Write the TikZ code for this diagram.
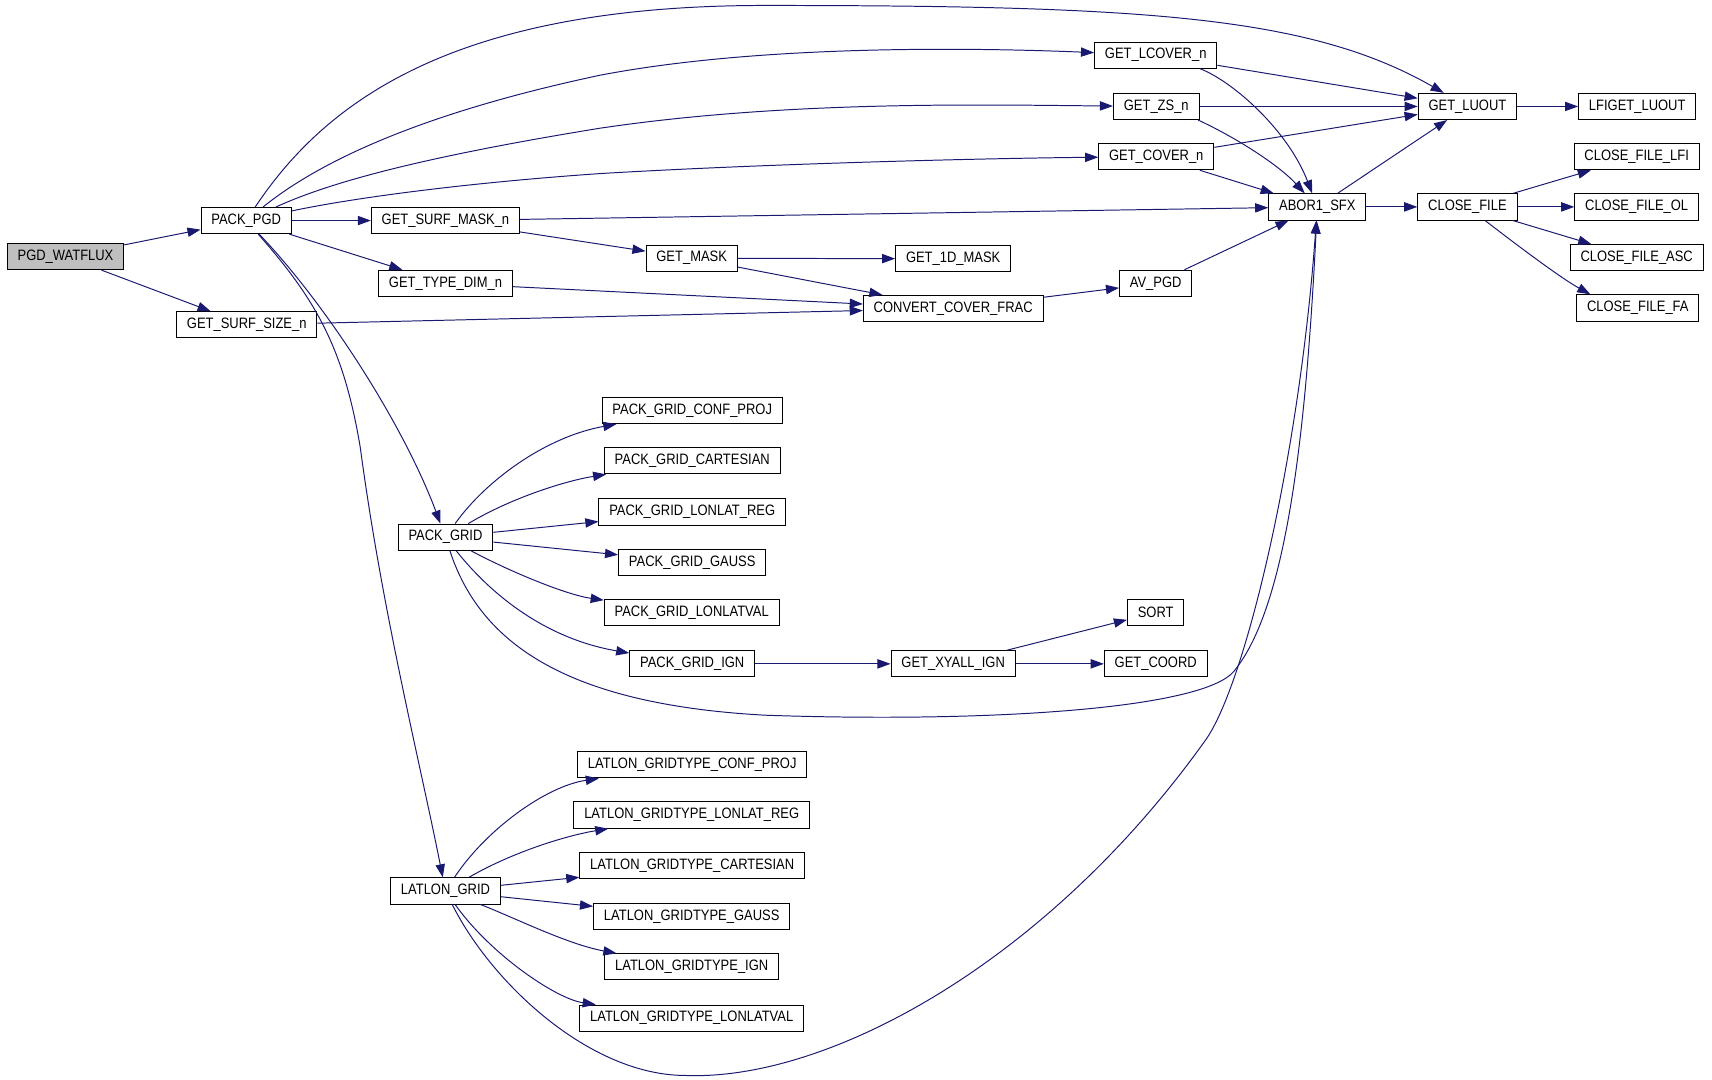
\documentclass[tikz,border=0pt]{standalone}
\usepackage{fontspec}
\setmainfont[FakeStretch=0.86]{Liberation Sans}
\usetikzlibrary{arrows.meta}
\definecolor{edgeblue}{HTML}{191970}
\definecolor{rootgray}{HTML}{BFBFBF}
\begin{document}
\begin{tikzpicture}[x=1pt,y=-1pt,
	fn/.style={draw=black,fill=white,line width=0.9pt,inner xsep=9.5pt,inner ysep=0pt,minimum height=24pt,font=\fontsize{13.8}{15}\selectfont},
	root/.style={fn,fill=rootgray},
	call/.style={draw=edgeblue,line width=0.9pt,-{Triangle[length=12pt,width=8.5pt]}}]
	\useasboundingbox (0,0) rectangle (1568,989);
	% functions
	\node[root] (watflux) at (60,235) {PGD\_WATFLUX};
	\node[fn] (packpgd) at (225.5,202) {PACK\_PGD};
	\node[fn] (surfsize) at (226,297.5) {GET\_SURF\_SIZE\_n};
	\node[fn] (surfmask) at (408,202) {GET\_SURF\_MASK\_n};
	\node[fn] (typedim) at (408,259.5) {GET\_TYPE\_DIM\_n};
	\node[fn] (getmask) at (633.5,236.5) {GET\_MASK};
	\node[fn] (onedmask) at (873,237) {GET\_1D\_MASK};
	\node[fn] (convert) at (873,282.5) {CONVERT\_COVER\_FRAC};
	\node[fn] (avpgd) at (1058.5,259.5) {AV\_PGD};
	\node[fn] (lcover) at (1058.5,50.5) {GET\_LCOVER\_n};
	\node[fn] (zs) at (1059,97.5) {GET\_ZS\_n};
	\node[fn] (cover) at (1059,143.5) {GET\_COVER\_n};
	\node[fn] (abor) at (1206.5,189.5) {ABOR1\_SFX};
	\node[fn] (luout) at (1344,97.5) {GET\_LUOUT};
	\node[fn] (lfiluout) at (1499.5,97.5) {LFIGET\_LUOUT};
	\node[fn] (close) at (1344,189.5) {CLOSE\_FILE};
	\node[fn] (closelfi) at (1499,143.5) {CLOSE\_FILE\_LFI};
	\node[fn] (closeol) at (1499,189.5) {CLOSE\_FILE\_OL};
	\node[fn] (closeasc) at (1499,236) {CLOSE\_FILE\_ASC};
	\node[fn] (closefa) at (1500,282) {CLOSE\_FILE\_FA};
	\node[fn] (packgrid) at (408,492) {PACK\_GRID};
	\node[fn] (pgconf) at (634,376) {PACK\_GRID\_CONF\_PROJ};
	\node[fn] (pgcart) at (634,422) {PACK\_GRID\_CARTESIAN};
	\node[fn] (pglonlat) at (634,469) {PACK\_GRID\_LONLAT\_REG};
	\node[fn] (pggauss) at (634,515) {PACK\_GRID\_GAUSS};
	\node[fn] (pgval) at (633.5,561) {PACK\_GRID\_LONLATVAL};
	\node[fn] (pgign) at (634,608) {PACK\_GRID\_IGN};
	\node[fn] (xyall) at (873,608) {GET\_XYALL\_IGN};
	\node[fn] (sort) at (1058.5,561) {SORT};
	\node[fn] (coord) at (1058.5,608) {GET\_COORD};
	\node[fn] (latlon) at (408,816) {LATLON\_GRID};
	\node[fn] (lgconf) at (634,700.5) {LATLON\_GRIDTYPE\_CONF\_PROJ};
	\node[fn] (lglonlat) at (633.5,746.5) {LATLON\_GRIDTYPE\_LONLAT\_REG};
	\node[fn] (lgcart) at (634,793) {LATLON\_GRIDTYPE\_CARTESIAN};
	\node[fn] (lggauss) at (633.5,839.5) {LATLON\_GRIDTYPE\_GAUSS};
	\node[fn] (lgign) at (633.5,885.5) {LATLON\_GRIDTYPE\_IGN};
	\node[fn] (lgval) at (633.5,932.5) {LATLON\_GRIDTYPE\_LONLATVAL};
	% straight calls
	\foreach \a/\b in {watflux/packpgd,watflux/surfsize,packpgd/surfmask,packpgd/typedim,
		surfmask/getmask,surfmask/abor,typedim/convert,surfsize/convert,getmask/onedmask,
		getmask/convert,convert/avpgd,avpgd/abor,lcover/luout,zs/luout,cover/luout,
		cover/abor,abor/luout,abor/close,luout/lfiluout,close/closelfi,close/closeol,
		close/closeasc,packgrid/pglonlat,packgrid/pggauss,pgign/xyall,xyall/sort,
		xyall/coord,latlon/lgcart,latlon/lggauss}
		\draw[call] (\a) -- (\b);
	% curved calls
	\draw[call] (packpgd) .. controls (300,90) and (420,5) .. (700,5) .. controls (1050,5) and (1200,15) .. (luout);
	\draw[call] (packpgd) .. controls (290,150) and (380,105) .. (549,69) .. controls (700,40) and (900,44) .. (lcover);
	\draw[call] (packpgd) .. controls (300,168) and (380,145) .. (549,117.5) .. controls (720,92) and (900,96) .. (zs);
	\draw[call] (packpgd) .. controls (320,182) and (420,168) .. (549,159) .. controls (700,150) and (900,145) .. (cover);
	\draw[call] (packpgd) .. controls (300,280) and (370,390) .. (packgrid);
	\draw[call] (packpgd) .. controls (290,275) and (315,320) .. (330,410) .. controls (350,560) and (385,700) .. (latlon);
	\draw[call] (lcover.-17) .. controls (1130,75) and (1180,120) .. (abor);
	\draw[call] (zs.-18) .. controls (1130,125) and (1170,150) .. (abor);
	\draw[call] (close) .. controls (1390,225) and (1430,255) .. (closefa.164);
	\draw[call] (packgrid) .. controls (445,440) and (500,400) .. (pgconf);
	\draw[call] (packgrid) .. controls (470,455) and (520,440) .. (pgcart);
	\draw[call] (packgrid) .. controls (470,525) and (520,545) .. (pgval);
	\draw[call] (packgrid) .. controls (450,545) and (500,585) .. (pgign);
	\draw[call] (packgrid) .. controls (440,590) and (520,645) .. (700,655) .. controls (900,662) and (1100,650) .. (1130,615) .. controls (1175,560) and (1195,420) .. (abor);
	\draw[call] (latlon) .. controls (445,760) and (500,720) .. (lgconf);
	\draw[call] (latlon) .. controls (470,780) and (520,765) .. (lglonlat);
	\draw[call] (latlon) .. controls (470,840) and (520,865) .. (lgign);
	\draw[call] (latlon) .. controls (450,875) and (510,915) .. (lgval);
	\draw[call] (latlon) .. controls (450,900) and (540,985) .. (628,985) .. controls (760,990) and (960,880) .. (1104,678) .. controls (1140,628) and (1190,420) .. (abor);
\end{tikzpicture}
\end{document}
